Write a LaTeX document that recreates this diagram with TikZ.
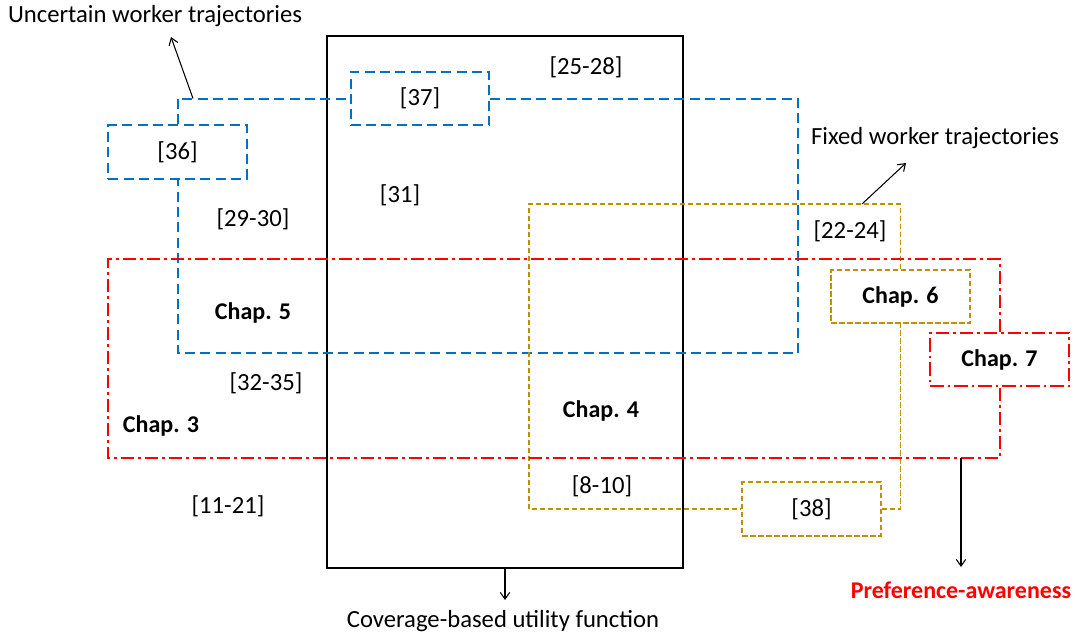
\documentclass[tikz,border=0pt]{standalone}
\usepackage{fontspec}
\setmainfont{Carlito}
\usetikzlibrary{arrows.meta}
\definecolor{cblue}{HTML}{0070C0}
\definecolor{cgold}{HTML}{BF9000}
\definecolor{cred}{HTML}{FF0000}
\begin{document}
\begin{tikzpicture}[x=0.75pt,y=-0.75pt,
  txt/.style={inner sep=0pt,font=\fontsize{18.5}{21}\selectfont},
  chap/.style={inner sep=0pt,font=\fontsize{18}{21}\selectfont\bfseries},
  bluel/.style={draw=cblue,line width=1.5pt,dash pattern=on 7.5pt off 4pt},
  goldl/.style={draw=cgold,line width=1.4pt,dash pattern=on 4pt off 2pt},
  redl/.style={draw=cred,line width=1.5pt,dash pattern=on 10pt off 3pt on 2pt off 3pt},
  boxsz/.style={minimum width=104pt,minimum height=40pt,inner sep=0pt},
  arr/.style={-{Straight Barb[length=5pt,width=7pt]},line width=0.8pt,black}]
\useasboundingbox (0,0) rectangle (1078,637);
% coverage box
\node[draw,line width=1.5pt,minimum width=267pt,minimum height=399pt,inner sep=0pt] (cov) at (505,302) {};
\node[txt] (covt) at (503,621) {Coverage-based utility function};
\coordinate (covtip) at (505,600);
\draw[arr] (cov.south) -- (covtip);
% blue region
\node[bluel,boxsz,txt] (b36) at (177.5,152) {[36]};
\node[bluel,boxsz,txt] (b37) at (420,98.5) {[37]};
\coordinate (bBR) at (798,353);
\draw[bluel] (b36.north) |- (b37.west);
\draw[bluel] (b37.east) -| (bBR) -| (b36.south);
\node[txt] (unc) at (155,16) {Uncertain worker trajectories};
\coordinate (ua) at (193,98.5);
\coordinate (ub) at (171,37);
\draw[arr] (ua) -- (ub);
% gold region
\node[goldl,boxsz,chap] (c6) at (900.5,296.5) {Chap. 6};
\node[goldl,boxsz,txt] (b38) at (811.5,509) {[38]};
\coordinate (gTL) at (529,204);
\coordinate (gBL) at (529,509);
\draw[goldl] (c6.north) |- (gTL) -- (gBL) -- (b38.west);
\draw[goldl] (b38.east) -| (c6.south);
\node[txt] (fix) at (935,138) {Fixed worker trajectories};
\coordinate (fa) at (862,204);
\coordinate (fb) at (906,163);
\draw[arr] (fa) -- (fb);
% red region
\node[redl,boxsz,chap] (c7) at (999.5,359.5) {Chap. 7};
\coordinate (rTL) at (108,259);
\coordinate (rBL) at (108,458);
\draw[redl] (c7.north) |- (rTL) -- (rBL) -| (c7.south);
\node[chap,text=cred] (pref) at (961,590) {Preference-awareness};
\coordinate (pa) at (961,458);
\coordinate (pb) at (961,567);
\draw[arr] (pa) -- (pb);
% labels
\node[txt] (l2528) at (586,67) {[25-28]};
\node[txt] (l31) at (400,195) {[31]};
\node[txt] (l2930) at (253,219) {[29-30]};
\node[txt] (l2224) at (850,231) {[22-24]};
\node[chap] (c5) at (253,313) {Chap. 5};
\node[txt] (l3235) at (266,383) {[32-35]};
\node[chap] (c4) at (601,411) {Chap. 4};
\node[chap] (c3) at (161,426) {Chap. 3};
\node[txt] (l810) at (602,486) {[8-10]};
\node[txt] (l1121) at (228,506) {[11-21]};
\end{tikzpicture}
\end{document}
